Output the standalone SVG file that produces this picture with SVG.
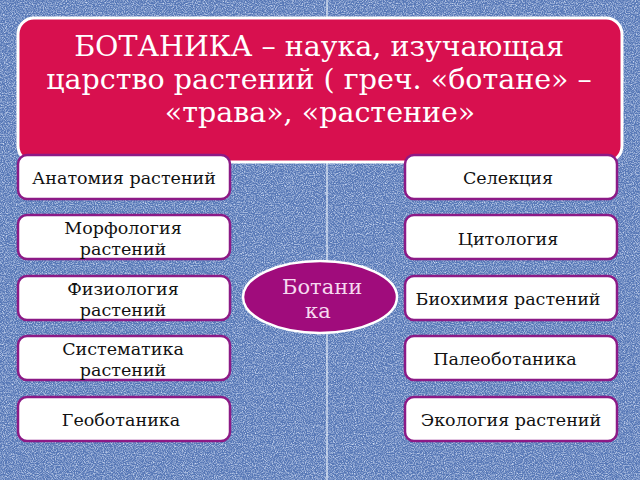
<svg xmlns="http://www.w3.org/2000/svg" width="640" height="480" viewBox="0 0 640 480">
<defs>
<filter id="noise" x="0" y="0" width="100%" height="100%" filterUnits="userSpaceOnUse">
<feTurbulence type="fractalNoise" baseFrequency="0.9" numOctaves="2" seed="7" result="n"/>
<feColorMatrix in="n" type="matrix" values="0 0 0 0 0.82  0 0 0 0 0.88  0 0 0 0 1  1.8 0 0 0 -0.72"/>
</filter>
<style>
.box{fill:#ffffff;stroke:#8c1a86;stroke-width:2.5}
.t{font-family:"DejaVu Serif","Liberation Serif",serif;font-size:17.5px;fill:#111;text-anchor:middle}
.title{font-family:"DejaVu Serif","Liberation Serif",serif;font-size:28.5px;fill:#ffffff;text-anchor:middle}
.c{font-family:"DejaVu Serif","Liberation Serif",serif;font-size:21px;fill:#f6d9f0}
</style>
</defs>
<rect width="640" height="480" fill="#5677b6"/>
<rect width="640" height="480" filter="url(#noise)"/>
<g id="connectors">
<line x1="327" y1="0" x2="327" y2="480" stroke="#e8eef8" stroke-width="1.2"/>
</g>
<g id="title">
<rect x="18" y="18" width="604" height="144" rx="16" fill="#d8104f" stroke="#ffffff" stroke-width="3"/>
<text class="title" x="319" y="56">БОТАНИКА – наука, изучающая</text>
<text class="title" x="319" y="89">царство растений ( греч. «ботане» –</text>
<text class="title" x="320" y="122">«трава», «растение»</text>
</g>
<g id="n-anatomy"><rect class="box" x="18" y="155" width="212" height="44" rx="9"/><text class="t" x="124" y="184">Анатомия растений</text></g>
<g id="n-morph"><rect class="box" x="18" y="215" width="212" height="44" rx="9"/><text class="t" x="123" y="234">Морфология</text><text class="t" x="123" y="255">растений</text></g>
<g id="n-phys"><rect class="box" x="18" y="276" width="212" height="44" rx="9"/><text class="t" x="123" y="295">Физиология</text><text class="t" x="123" y="316">растений</text></g>
<g id="n-syst"><rect class="box" x="18" y="336" width="212" height="44" rx="9"/><text class="t" x="123" y="355">Систематика</text><text class="t" x="123" y="376">растений</text></g>
<g id="n-geo"><rect class="box" x="18" y="397" width="212" height="44" rx="9"/><text class="t" x="121" y="426">Геоботаника</text></g>
<g id="n-sel"><rect class="box" x="405" y="155" width="212" height="44" rx="9"/><text class="t" x="508" y="184">Селекция</text></g>
<g id="n-cyto"><rect class="box" x="405" y="215" width="212" height="44" rx="9"/><text class="t" x="508" y="245">Цитология</text></g>
<g id="n-bio"><rect class="box" x="405" y="276" width="212" height="44" rx="9"/><text class="t" x="508" y="305">Биохимия растений</text></g>
<g id="n-paleo"><rect class="box" x="405" y="336" width="212" height="44" rx="9"/><text class="t" x="505" y="365">Палеоботаника</text></g>
<g id="n-eco"><rect class="box" x="405" y="397" width="212" height="44" rx="9"/><text class="t" x="511" y="426">Экология растений</text></g>
<g id="n-center">
<ellipse cx="320" cy="297" rx="77" ry="36" fill="#a00c7c" stroke="#ffffff" stroke-width="2.5"/>
<text class="c" x="282" y="294">Ботани</text>
<text class="c" x="305" y="318">ка</text>
</g>
</svg>
